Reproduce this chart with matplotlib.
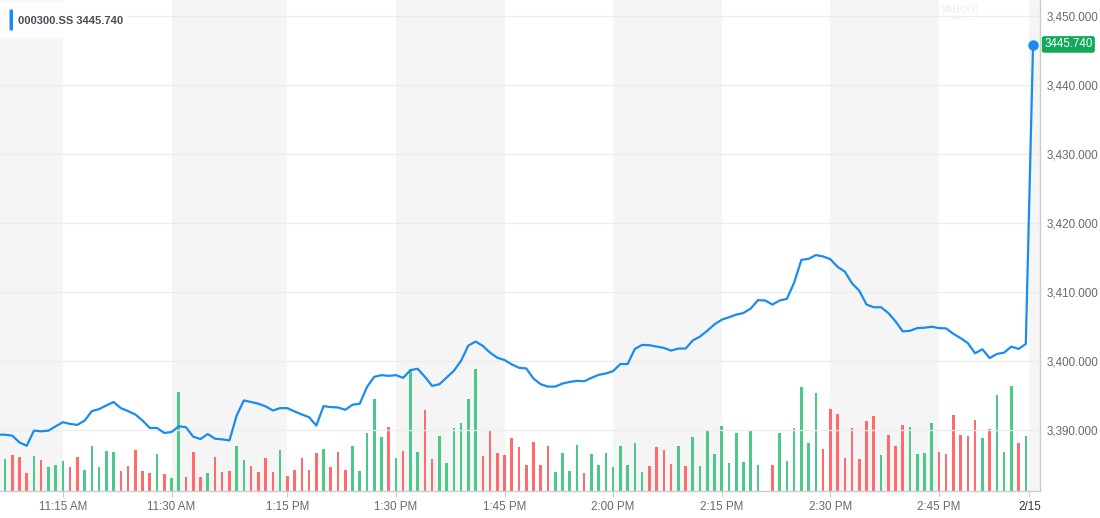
import numpy as np
import matplotlib
matplotlib.use("Agg")
import matplotlib.pyplot as plt
from matplotlib.patches import FancyBboxPatch
from matplotlib.ticker import FuncFormatter

plt.rcParams['font.family'] = ['Liberation Sans', 'DejaVu Sans']

# === Data: one point per trading minute (index 0 = 11:07, lunch break skipped) ===
ticker = "000300.SS"
last_price = 3445.740

# price line starts one minute before the visible window (index -1)
price = [
    3389.28, 3389.28, 3389.14, 3388.16, 3387.67, 3389.87, 3389.77, 3389.87, 3390.50, 3391.09,
    3390.84, 3390.70, 3391.33, 3392.70, 3392.99, 3393.52, 3394.01, 3393.13, 3392.70, 3392.21,
    3391.33, 3390.26, 3390.26, 3389.53, 3389.67, 3390.50, 3390.36, 3388.99, 3388.65, 3389.38,
    3388.70, 3388.60, 3388.45, 3392.06, 3394.25, 3394.01, 3393.77, 3393.38, 3392.79, 3393.13,
    3393.13, 3392.65, 3392.21, 3391.82, 3390.60, 3393.42, 3393.28, 3393.23, 3392.89, 3393.62,
    3393.77, 3396.20, 3397.67, 3397.91, 3397.81, 3397.91, 3397.52, 3398.64, 3398.83, 3397.67,
    3396.35, 3396.59, 3397.57, 3398.54, 3400.00, 3402.20, 3402.78, 3402.15, 3401.17, 3400.44,
    3400.10, 3399.47, 3398.98, 3398.88, 3397.42, 3396.59, 3396.25, 3396.25, 3396.69, 3396.93,
    3397.08, 3397.03, 3397.52, 3397.95, 3398.15, 3398.49, 3399.52, 3399.52, 3401.71, 3402.29,
    3402.25, 3402.05, 3401.86, 3401.47, 3401.76, 3401.76, 3402.93, 3403.51, 3404.34, 3405.27,
    3405.95, 3406.30, 3406.68, 3406.92, 3407.56, 3408.78, 3408.73, 3408.14, 3408.73, 3408.97,
    3411.31, 3414.62, 3414.77, 3415.31, 3415.11, 3414.72, 3413.60, 3412.92, 3411.21, 3410.14,
    3408.14, 3407.75, 3407.75, 3406.92, 3405.71, 3404.25, 3404.34, 3404.73, 3404.78, 3404.93,
    3404.73, 3404.68, 3403.90, 3403.27, 3402.54, 3401.08, 3401.66, 3400.39, 3400.98, 3401.17,
    3402.05, 3401.71, 3402.44, 3445.74,
]

volume = [
    32, 36, 34, 18, 35, 31, 24, 26, 30, 24, 34, 21, 45, 24, 40, 39, 20, 25, 41, 20,
    18, 37, 17, 13, 99, 14, 39, 14, 18, 34, 19, 20, 45, 31, 25, 19, 33, 19, 41, 15,
    21, 33, 21, 38, 42, 24, 39, 21, 45, 20, 58, 92, 54, 64, 33, 40, 122, 39, 81, 32,
    55, 28, 63, 68, 92, 122, 35, 60, 38, 36, 53, 44, 26, 49, 26, 45, 19, 38, 20, 46,
    18, 37, 26, 38, 24, 45, 26, 48, 19, 25, 44, 41, 27, 45, 25, 54, 25, 60, 37, 65,
    28, 58, 29, 61, 26, 0, 26, 58, 30, 63, 104, 48, 98, 42, 82, 77, 33, 63, 32, 70,
    75, 36, 56, 45, 66, 64, 37, 38, 68, 39, 37, 76, 56, 55, 71, 53, 62, 96, 39, 105,
    48, 55,
]

# u = up (green), d = down (red), ten minutes per chunk
direction = (
    "uddduduuud" "duuuuudddd" "duduudddud" "dduuddddud" "dddduddduu"
    "uuududuudd" "uuuuuudddd" "dddddduuuu" "duuuuuuuud" "ddduduuuuu"
    "uuuuuuduuu" "uuuddddddd" "duddduuuud" "ddddduduuu" "du"
)

tick_idx = [8, 23, 39, 54, 69, 84, 99, 114, 129, 141.5]
tick_labels = ["11:15 AM", "11:30 AM", "1:15 PM", "1:30 PM", "1:45 PM",
               "2:00 PM", "2:15 PM", "2:30 PM", "2:45 PM", "2/15"]
price_ticks = [3390, 3400, 3410, 3420, 3430, 3440, 3450]

# === Figure ===
W, H = 1100, 518
fig = plt.figure(figsize=(W / 100, H / 100), dpi=100)
rect = [0, 1 - 491 / H, 1040 / W, 491 / H]

x_lo, x_hi = -0.69, 142.96

# volume axes (background with the bands)
axv = fig.add_axes(rect)
axv.set_xlim(x_lo, x_hi)
axv.set_ylim(0, 491)
axv.axis("off")

band_edges = [x_lo] + tick_idx + [x_hi]
for i in range(0, len(band_edges) - 1, 2):
    axv.axvspan(band_edges[i], band_edges[i + 1], color="#f5f5f5", lw=0, zorder=0)

vol_x = np.arange(len(volume))
bar_colors = ["#4cc98a" if d == "u" else "#ff6b6b" for d in direction]
axv.bar(vol_x, volume, width=0.36, color=bar_colors, zorder=2)

# price axes on top
ax = fig.add_axes(rect)
ax.patch.set_alpha(0)
ax.set_xlim(x_lo, x_hi)
ax.set_ylim(3381.12, 3452.28)

price_x = np.arange(-1, len(price) - 1)
ax.plot(price_x, price, color="#1a8cf0", lw=1.6, zorder=3, solid_joinstyle="round")
ax.plot(price_x[-1], price[-1], "o", color="#1a8cf0", ms=6.5, zorder=4)

for p in price_ticks:
    ax.axhline(p, color="#ececec", lw=0.9, zorder=1)

ax.yaxis.tick_right()
ax.set_yticks(price_ticks)
ax.yaxis.set_major_formatter(FuncFormatter(lambda v, _: f"{v:,.3f}"))
ax.tick_params(axis="y", length=0, pad=5, labelsize=8.4, labelcolor="#6a6a6a")

ax.set_xticks(tick_idx)
ax.set_xticklabels(tick_labels)
ax.tick_params(axis="x", length=4, color="#cccccc", pad=3, labelsize=8.4, labelcolor="#6a6a6a")
ax.get_xticklabels()[-1].set_color("#333333")

for s in ["top", "left"]:
    ax.spines[s].set_visible(False)
for s in ["right", "bottom"]:
    ax.spines[s].set_color("#cccccc")
    ax.spines[s].set_linewidth(1)

# current price tag on the right axis
ax.annotate(f"{last_price:.3f}", xy=(1.0, last_price), xycoords=("axes fraction", "data"),
            xytext=(3, 0.5), textcoords="offset points", va="center", ha="left",
            fontsize=8.3, color="white", zorder=6, annotation_clip=False,
            bbox=dict(boxstyle="round,pad=0.2,rounding_size=0.2", fc="#12a95b", ec="none"))

# label box in the top-left corner
fig.patches.append(FancyBboxPatch((0, (H - 38) / H), 128 / W, 36 / H, boxstyle="square,pad=0",
                                  transform=fig.transFigure, fc="white", ec="none", alpha=0.85, zorder=5))
fig.patches.append(FancyBboxPatch((9.5 / W, (H - 31) / H), 3.5 / W, 22 / H,
                                  boxstyle="round,pad=0,rounding_size=0.003",
                                  transform=fig.transFigure, fc="#1a8cf0", ec="none", zorder=6))
fig.text(18 / W, (H - 21) / H, f"{ticker} {last_price:.3f}", fontsize=8, fontweight="bold",
         color="#464e56", va="center", ha="left", zorder=7)

# faint watermark
fig.text(960 / W, (H - 10) / H, "YAHOO!", fontsize=7, fontweight="bold", color="#f1f1f1",
         ha="center", va="center")
fig.text(960 / W, (H - 18) / H, "FINANCE", fontsize=4.5, color="#f1f1f1", ha="center", va="center")

fig.savefig("out.png", dpi=100)
